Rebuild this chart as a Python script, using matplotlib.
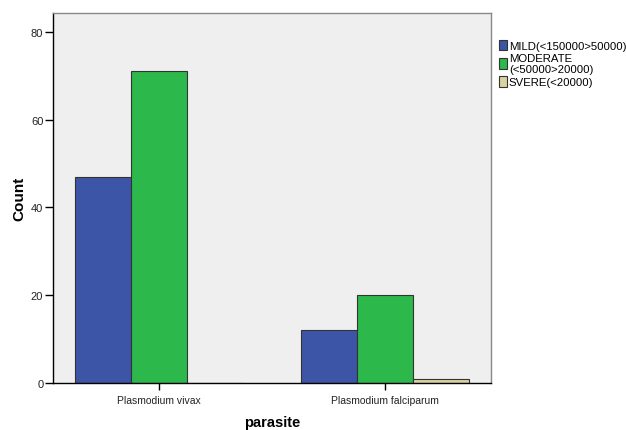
import matplotlib
matplotlib.use("Agg")
import matplotlib.pyplot as plt
import numpy as np

categories = ["Plasmodium vivax", "Plasmodium falciparum"]
series_names = ["MILD(<150000>50000)", "MODERATE\n(<50000>20000)", "SVERE(<20000)"]
mild = [47, 12]
moderate = [71, 20]
severe = [0, 1]
colors = ["#3d55a7", "#2db84b", "#d8d3a1"]

plt.rcParams['font.family'] = ['Liberation Sans', 'DejaVu Sans']

fig = plt.figure(figsize=(6.26, 4.31), dpi=100)
ax = fig.add_axes([53/626, 1-384/431, (491-53)/626, (384-14)/431])
ax.set_facecolor("#efefef")

x = np.arange(len(categories))
w = 0.247
for i, (vals, c, name) in enumerate(zip([mild, moderate, severe], colors, series_names)):
    ax.bar(x + (i-1)*w, vals, width=w, color=c, edgecolor="#333333", linewidth=0.8, label=name)

ax.set_xlim(-0.467, 1.467)
ax.set_ylim(0, 84.3)
ax.set_yticks([0, 20, 40, 60, 80])
ax.set_xticks(x)
ax.set_xticklabels(categories, fontsize=7.5, color="#222222")
ax.tick_params(axis='y', labelsize=8, length=6, width=1, direction='out', pad=1, labelcolor="#222222")
ax.tick_params(axis='x', length=5, width=1, direction='out', pad=4)
ax.set_ylabel("Count", fontsize=11, fontweight='bold', labelpad=3)
ax.set_xlabel("parasite", fontsize=10.5, fontweight='bold', labelpad=7)
for s in ["left", "bottom"]:
    ax.spines[s].set_color("black")
    ax.spines[s].set_linewidth(1)
for s in ["top", "right"]:
    ax.spines[s].set_color("#888888")
    ax.spines[s].set_linewidth(1)

leg = fig.legend(loc="upper left", bbox_to_anchor=(494/626, 1-36/431), frameon=False,
                 fontsize=8.2, handlelength=0.7, handleheight=1.1, handletextpad=0.2,
                 labelspacing=0.15, borderaxespad=0)

fig.savefig("out.png", dpi=100)
